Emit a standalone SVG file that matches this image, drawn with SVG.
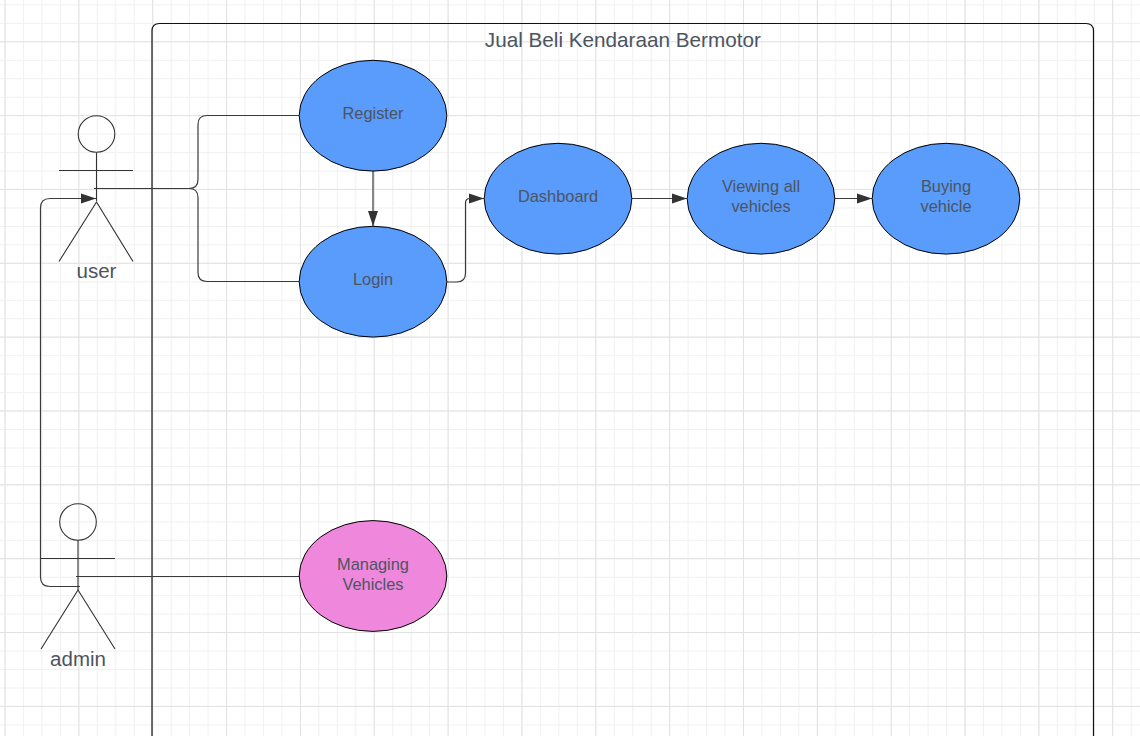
<svg xmlns="http://www.w3.org/2000/svg" width="1140" height="736" viewBox="0 0 1140 736">
<style>
.t{font-family:"Liberation Sans",Arial,sans-serif;fill:#4c5461;text-anchor:middle}
.n{font-size:16.400px}
.a{font-size:20.500px}
.e{stroke:#000;stroke-width:1}
.b{fill:#5a9cfb}
.c{fill:none;stroke:#3a3a3a;stroke-width:1.200}
.s{fill:none;stroke:#333;stroke-width:1.100}
</style>
<defs>
<marker id="arr" markerUnits="userSpaceOnUse" markerWidth="16" markerHeight="12" refX="15" refY="5" orient="auto" viewBox="0 0 16 10"><path d="M0 0L15 5L0 10Z" fill="#333"/></marker>
<pattern id="gm" width="18.4625" height="18.4625" patternUnits="userSpaceOnUse" x="4.500" y="4.400"><path d="M0.500 0V18.500M0 0.500H18.500" fill="none" stroke="#f0f0f0" stroke-width="1"/></pattern>
<pattern id="gM" width="73.850" height="73.850" patternUnits="userSpaceOnUse" x="4.500" y="41.200"><path d="M0.500 0V73.850M0 0.500H73.850" fill="none" stroke="#e2e2e2" stroke-width="1"/></pattern>
</defs>
<rect width="1140" height="736" fill="#fff"/>
<rect width="1140" height="736" fill="url(#gm)"/>
<rect width="1140" height="736" fill="url(#gM)"/>
<g id="boundary">
<path d="M152 740V31Q152 23.500 159.500 23.500H1086Q1093.500 23.500 1093.500 31V740" fill="none" stroke="#111" stroke-width="1.200"/>
<text class="t" x="622.800" y="47" font-size="20.700">Jual Beli Kendaraan Bermotor</text>
</g>
<g id="connectors">
<path class="c" d="M94 188.500H189Q198 188.500 198 179.500V124.500Q198 115.500 207 115.500H299"/>
<path class="c" d="M94 188.500H189Q198 188.500 198 197.500V272.500Q198 281.500 207 281.500H299"/>
<path class="c" d="M373 171V226" marker-end="url(#arr)"/>
<path class="c" d="M447 282H457Q465.500 282 465.500 273V203Q465.500 198.500 470 198.500H484" marker-end="url(#arr)"/>
<path class="c" d="M632 198.500H687" marker-end="url(#arr)"/>
<path class="c" d="M835 198.500H872" marker-end="url(#arr)"/>
<path class="c" d="M80 586.500H50Q40.500 586.500 40.500 577V208Q40.500 198.500 50 198.500H96" marker-end="url(#arr)"/>
<path class="c" d="M76 576.500H299"/>
</g>
<g id="user">
<circle cx="96.500" cy="134" r="18.300" fill="#fff" class="s"/>
<path class="s" d="M96.500 152.500V201M59 170.500H133M59 261.500L96.500 202L133 261.500"/>
<text class="t a" x="96.500" y="278">user</text>
</g>
<g id="admin">
<circle cx="78" cy="522" r="18.300" fill="#fff" class="s"/>
<path class="s" d="M78 540V590"/>
<path class="s" d="M41 558.500H115M41 649L78 590L115 649"/>
<text class="t a" x="78" y="665.500">admin</text>
</g>
<g id="register"><ellipse class="e b" cx="373" cy="115.700" rx="73.800" ry="55.400"/><text class="t n" x="373" y="119">Register</text></g>
<g id="login"><ellipse class="e b" cx="373" cy="281.700" rx="73.800" ry="55.400"/><text class="t n" x="373" y="285">Login</text></g>
<g id="dashboard"><ellipse class="e b" cx="558" cy="198.700" rx="73.800" ry="55.400"/><text class="t n" x="558" y="202">Dashboard</text></g>
<g id="viewing"><ellipse class="e b" cx="761" cy="198.700" rx="73.800" ry="55.400"/><text class="t n" x="761" y="192">Viewing all</text><text class="t n" x="761" y="212">vehicles</text></g>
<g id="buying"><ellipse class="e b" cx="946" cy="198.700" rx="73.800" ry="55.400"/><text class="t n" x="946" y="192">Buying</text><text class="t n" x="946" y="212">vehicle</text></g>
<g id="managing"><ellipse class="e" fill="#ef88dc" cx="373" cy="576" rx="73.800" ry="55.400"/><text class="t n" x="373" y="570">Managing</text><text class="t n" x="373" y="590">Vehicles</text></g>
</svg>
